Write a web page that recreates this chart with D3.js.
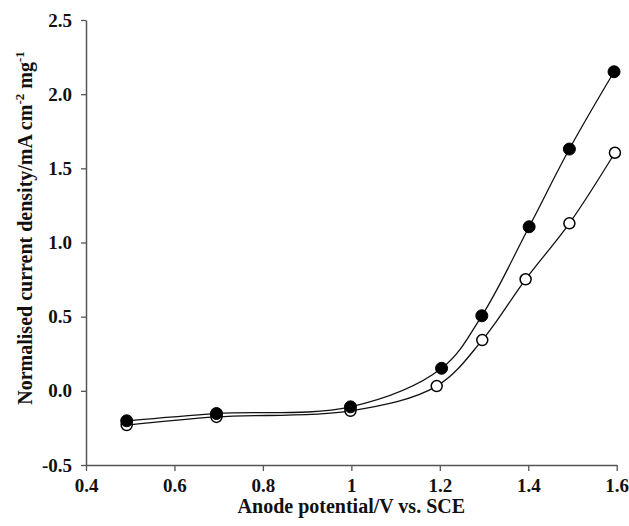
<!DOCTYPE html>
<html>
<head>
<meta charset="utf-8">
<script src="https://cdn.jsdelivr.net/npm/d3@7"></script>
<style>
  html, body { margin: 0; padding: 0; background: #fff; }
  svg { display: block; }
  text { font-family: "Liberation Serif", "Times New Roman", serif; font-weight: bold; fill: #111; }
</style>
</head>
<body>
<svg id="chart" width="629" height="526"></svg>
<script>
// ---- data ----
const xFilled = [0.492, 0.695, 0.998, 1.204, 1.295, 1.402, 1.493, 1.594];
const yFilled = [-0.202, -0.153, -0.108, 0.152, 0.506, 1.106, 1.630, 2.151];
const xOpen   = [0.492, 0.695, 0.998, 1.193, 1.296, 1.394, 1.493, 1.596];
const yOpen   = [-0.231, -0.176, -0.135, 0.032, 0.342, 0.752, 1.129, 1.605];
const xTicks = [0.4, 0.6, 0.8, 1.0, 1.2, 1.4, 1.6];
const xTickLabels = ["0.4", "0.6", "0.8", "1", "1.2", "1.4", "1.6"];
const yTicks = [-0.5, 0.0, 0.5, 1.0, 1.5, 2.0, 2.5];
const yTickLabels = ["-0.5", "0.0", "0.5", "1.0", "1.5", "2.0", "2.5"];

const svg = d3.select("#chart");
const mLeft = 86, mRight = 616.7, mTop = 20, mBottom = 465;

const x = d3.scaleLinear().domain([0.4, 1.6]).range([mLeft, mRight]);
const y = d3.scaleLinear().domain([-0.5, 2.5]).range([mBottom, mTop]);

const axisColor = "#555";

// x axis
const xAxis = d3.axisBottom(x).tickValues(xTicks)
  .tickFormat((d, i) => xTickLabels[i]).tickSize(6).tickSizeOuter(0).tickPadding(8);
const gx = svg.append("g").attr("transform", `translate(0,${mBottom})`).call(xAxis);
gx.select(".domain").attr("stroke", axisColor).attr("stroke-width", 1.5);
gx.selectAll(".tick line").attr("stroke", axisColor).attr("stroke-width", 1.3);
gx.selectAll(".tick text").attr("font-size", 19).attr("fill", "#111")
  .style("font-family", '"Liberation Serif", serif').style("font-weight", "bold");

// y axis
const yAxis = d3.axisLeft(y).tickValues(yTicks)
  .tickFormat((d, i) => yTickLabels[i]).tickSize(5).tickSizeOuter(0).tickPadding(9);
const gy = svg.append("g").attr("transform", `translate(${mLeft},0)`).call(yAxis);
gy.select(".domain").attr("stroke", axisColor).attr("stroke-width", 1.5);
gy.selectAll(".tick line").attr("stroke", axisColor).attr("stroke-width", 1.3);
gy.selectAll(".tick text").attr("font-size", 19).attr("fill", "#111")
  .style("font-family", '"Liberation Serif", serif').style("font-weight", "bold");

// lines
const line = d3.line().x(d => x(d[0])).y(d => y(d[1])).curve(d3.curveCatmullRom.alpha(0.5));
const filled = xFilled.map((v, i) => [v, yFilled[i]]);
const open = xOpen.map((v, i) => [v, yOpen[i]]);

svg.append("path").datum(open).attr("d", line)
  .attr("fill", "none").attr("stroke", "#111").attr("stroke-width", 1.3);
svg.append("path").datum(filled).attr("d", line)
  .attr("fill", "none").attr("stroke", "#111").attr("stroke-width", 1.3);

svg.append("g").selectAll("circle").data(open).join("circle")
  .attr("cx", d => x(d[0])).attr("cy", d => y(d[1])).attr("r", 5.5)
  .attr("fill", "#fff").attr("stroke", "#000").attr("stroke-width", 1.5);
svg.append("g").selectAll("circle").data(filled).join("circle")
  .attr("cx", d => x(d[0])).attr("cy", d => y(d[1])).attr("r", 6)
  .attr("fill", "#000").attr("stroke", "#000").attr("stroke-width", 1);

// axis titles
svg.append("text").attr("x", (mLeft + mRight) / 2).attr("y", 513)
  .attr("text-anchor", "middle").attr("font-size", 20)
  .text("Anode potential/V vs. SCE");

const yt = svg.append("text")
  .attr("transform", `translate(32,228) rotate(-90)`)
  .attr("text-anchor", "middle").attr("font-size", 20);
yt.append("tspan").text("Normalised current density/mA cm");
yt.append("tspan").attr("font-size", 13).attr("dy", -8).text("-2");
yt.append("tspan").attr("dy", 8).text(" mg");
yt.append("tspan").attr("font-size", 13).attr("dy", -8).text("-1");
</script>
</body>
</html>
